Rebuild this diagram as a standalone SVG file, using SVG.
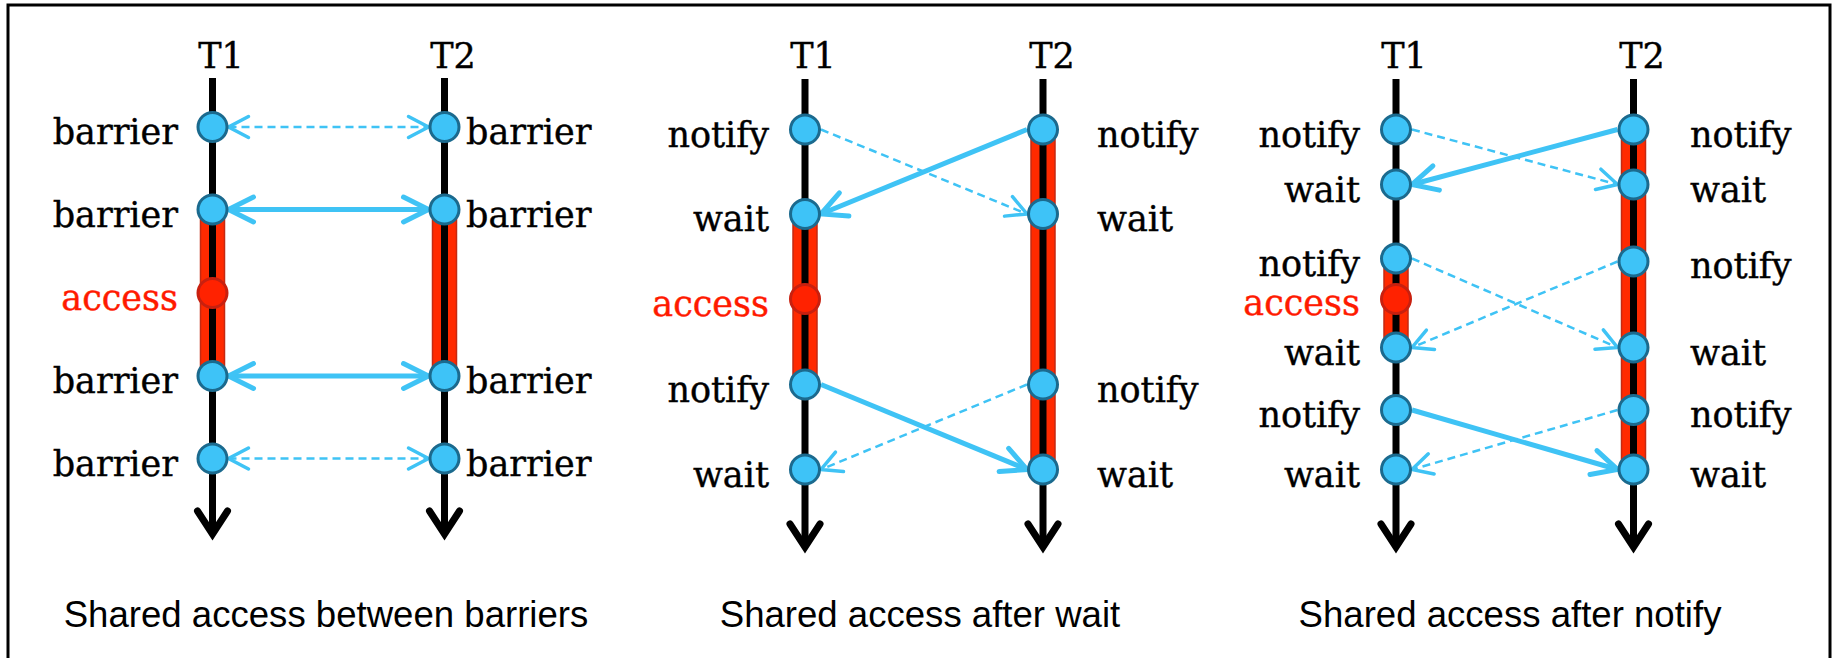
<svg xmlns="http://www.w3.org/2000/svg" width="1837" height="658" viewBox="0 0 1837 658">
<style>
.frame{fill:#fff;stroke:#000;stroke-width:3}
.life{stroke:#000;stroke-width:7;fill:none;marker-end:url(#bk)}
.band{fill:#ff2a00;stroke:#c42a12;stroke-width:1.5}
.ev{fill:#3ec3f7;stroke:#1b6a8e;stroke-width:3}
.acc{fill:#ff2200;stroke:#c8200f;stroke-width:3}
.lbl{font-family:"DejaVu Serif","Liberation Serif",serif;font-size:35px;fill:#000;stroke:#000;stroke-width:0.4}
.l{text-anchor:end}
.red{fill:#ff1a00;stroke:#ff1a00}
.th{font-family:"DejaVu Serif","Liberation Serif",serif;font-size:35px;fill:#000;stroke:#000;stroke-width:0.4;text-anchor:middle}
.cap{font-family:"Liberation Sans",Arial,sans-serif;font-size:36.6px;fill:#000;text-anchor:middle}
.sol{stroke:#3fc3f5;stroke-width:5;fill:none;marker-end:url(#hs)}
.das{stroke:#3fc3f5;stroke-width:2.5;stroke-dasharray:8 5;fill:none;marker-end:url(#hd)}
.sol2{marker-start:url(#hs)}
.das2{marker-start:url(#hd)}
</style>
<defs>
<marker id="bk" markerUnits="userSpaceOnUse" viewBox="-30 -20 36 40" refX="0" refY="0" markerWidth="36" markerHeight="40" orient="auto" overflow="visible">
<path d="M-23,-15 L0,0 L-23,15" fill="none" stroke="#000" stroke-width="7" stroke-linecap="round" stroke-linejoin="miter"/>
</marker>
<marker id="hs" markerUnits="userSpaceOnUse" viewBox="-32 -18 40 36" refX="0" refY="0" markerWidth="40" markerHeight="36" orient="auto-start-reverse" overflow="visible">
<path d="M-25,-12.5 L0,0 L-25,12.5" fill="none" stroke="#3fc3f5" stroke-width="5" stroke-linecap="round" stroke-linejoin="miter"/>
</marker>
<marker id="hd" markerUnits="userSpaceOnUse" viewBox="-28 -16 34 32" refX="0" refY="0" markerWidth="34" markerHeight="32" orient="auto-start-reverse" overflow="visible">
<path d="M-20,-10.5 L0,0 L-20,10.5" fill="none" stroke="#3fc3f5" stroke-width="3.5" stroke-linecap="round" stroke-linejoin="miter"/>
</marker>
</defs>
<rect class="frame" x="8" y="5" width="1822" height="700"/>

<!-- Panel 1 -->
<g id="p1-T1">
<rect class="band" x="200.5" y="209.5" width="24" height="166.5"/>
<line class="life" x1="212.5" y1="78" x2="212.5" y2="534"/>
<text class="th" x="221" y="68">T1</text>
</g>
<g id="p1-T2">
<rect class="band" x="432.5" y="209.5" width="24" height="166.5"/>
<line class="life" x1="444.5" y1="78" x2="444.5" y2="534"/>
<text class="th" x="453" y="68">T2</text>
</g>
<text class="cap" x="326" y="627">Shared access between barriers</text>

<!-- Panel 2 -->
<g id="p2-T1">
<rect class="band" x="793" y="214" width="24" height="170.5"/>
<line class="life" x1="805" y1="79" x2="805" y2="547"/>
<text class="th" x="813" y="68">T1</text>
</g>
<g id="p2-T2">
<rect class="band" x="1031" y="129.5" width="24" height="340"/>
<line class="life" x1="1043" y1="79" x2="1043" y2="547"/>
<text class="th" x="1052" y="68">T2</text>
</g>
<text class="cap" x="920" y="627">Shared access after wait</text>

<!-- Panel 3 -->
<g id="p3-T1">
<rect class="band" x="1384" y="258.5" width="24" height="89"/>
<line class="life" x1="1396" y1="79" x2="1396" y2="547"/>
<text class="th" x="1404" y="68">T1</text>
</g>
<g id="p3-T2">
<rect class="band" x="1621.5" y="129.5" width="24" height="340"/>
<line class="life" x1="1633.5" y1="79" x2="1633.5" y2="547"/>
<text class="th" x="1642" y="68">T2</text>
</g>
<text class="cap" x="1510" y="627">Shared access after notify</text>

<!-- Connectors -->
<g id="connectors">
<line class="das das2" x1="228.5" y1="127" x2="428.5" y2="127"/>
<line class="sol sol2" x1="228.5" y1="209.5" x2="428.5" y2="209.5"/>
<line class="sol sol2" x1="228.5" y1="376" x2="428.5" y2="376"/>
<line class="das das2" x1="228.5" y1="458.5" x2="428.5" y2="458.5"/>

<line class="das" x1="821" y1="129.5" x2="1027" y2="214"/>
<line class="sol" x1="1027" y1="129.5" x2="821" y2="214"/>
<line class="sol" x1="821" y1="384.5" x2="1027" y2="469.5"/>
<line class="das" x1="1027" y1="384.5" x2="821" y2="469.5"/>

<line class="das" x1="1412" y1="129.5" x2="1617.5" y2="184.5"/>
<line class="sol" x1="1617.5" y1="129.5" x2="1412" y2="184.5"/>
<line class="das" x1="1412" y1="258.5" x2="1617.5" y2="347.5"/>
<line class="das" x1="1617.5" y1="261.5" x2="1412" y2="347.5"/>
<line class="sol" x1="1412" y1="410" x2="1617.5" y2="469.5"/>
<line class="das" x1="1617.5" y1="410" x2="1412" y2="469.5"/>
</g>

<!-- Panel 1 events -->
<g id="p1-T1-b1"><circle class="ev" cx="212.5" cy="127" r="14.5"/><text class="lbl l" x="178" y="144">barrier</text></g>
<g id="p1-T1-b2"><circle class="ev" cx="212.5" cy="209.5" r="14.5"/><text class="lbl l" x="178" y="226.5">barrier</text></g>
<g id="p1-T1-acc"><circle class="acc" cx="212.5" cy="293" r="14.5"/><text class="lbl l red" x="178" y="310">access</text></g>
<g id="p1-T1-b3"><circle class="ev" cx="212.5" cy="376" r="14.5"/><text class="lbl l" x="178" y="393">barrier</text></g>
<g id="p1-T1-b4"><circle class="ev" cx="212.5" cy="458.5" r="14.5"/><text class="lbl l" x="178" y="475.5">barrier</text></g>
<g id="p1-T2-b1"><circle class="ev" cx="444.5" cy="127" r="14.5"/><text class="lbl" x="466" y="144">barrier</text></g>
<g id="p1-T2-b2"><circle class="ev" cx="444.5" cy="209.5" r="14.5"/><text class="lbl" x="466" y="226.5">barrier</text></g>
<g id="p1-T2-b3"><circle class="ev" cx="444.5" cy="376" r="14.5"/><text class="lbl" x="466" y="393">barrier</text></g>
<g id="p1-T2-b4"><circle class="ev" cx="444.5" cy="458.5" r="14.5"/><text class="lbl" x="466" y="475.5">barrier</text></g>

<!-- Panel 2 events -->
<g id="p2-T1-n1"><circle class="ev" cx="805" cy="129.5" r="14.5"/><text class="lbl l" x="769" y="146.5">notify</text></g>
<g id="p2-T1-w1"><circle class="ev" cx="805" cy="214" r="14.5"/><text class="lbl l" x="769" y="231">wait</text></g>
<g id="p2-T1-acc"><circle class="acc" cx="805" cy="299" r="14.5"/><text class="lbl l red" x="769" y="316">access</text></g>
<g id="p2-T1-n2"><circle class="ev" cx="805" cy="384.5" r="14.5"/><text class="lbl l" x="769" y="401.5">notify</text></g>
<g id="p2-T1-w2"><circle class="ev" cx="805" cy="469.5" r="14.5"/><text class="lbl l" x="769" y="486.5">wait</text></g>
<g id="p2-T2-n1"><circle class="ev" cx="1043" cy="129.5" r="14.5"/><text class="lbl" x="1097" y="146.5">notify</text></g>
<g id="p2-T2-w1"><circle class="ev" cx="1043" cy="214" r="14.5"/><text class="lbl" x="1097" y="231">wait</text></g>
<g id="p2-T2-n2"><circle class="ev" cx="1043" cy="384.5" r="14.5"/><text class="lbl" x="1097" y="401.5">notify</text></g>
<g id="p2-T2-w2"><circle class="ev" cx="1043" cy="469.5" r="14.5"/><text class="lbl" x="1097" y="486.5">wait</text></g>

<!-- Panel 3 events -->
<g id="p3-T1-n1"><circle class="ev" cx="1396" cy="129.5" r="14.5"/><text class="lbl l" x="1360" y="146.5">notify</text></g>
<g id="p3-T1-w1"><circle class="ev" cx="1396" cy="184.5" r="14.5"/><text class="lbl l" x="1360" y="201.5">wait</text></g>
<g id="p3-T1-n2"><circle class="ev" cx="1396" cy="258.5" r="14.5"/><text class="lbl l" x="1360" y="275.5">notify</text></g>
<g id="p3-T1-acc"><circle class="acc" cx="1396" cy="299" r="14.5"/><text class="lbl l red" x="1360" y="315">access</text></g>
<g id="p3-T1-w2"><circle class="ev" cx="1396" cy="347.5" r="14.5"/><text class="lbl l" x="1360" y="364.5">wait</text></g>
<g id="p3-T1-n3"><circle class="ev" cx="1396" cy="410" r="14.5"/><text class="lbl l" x="1360" y="427">notify</text></g>
<g id="p3-T1-w3"><circle class="ev" cx="1396" cy="469.5" r="14.5"/><text class="lbl l" x="1360" y="486.5">wait</text></g>
<g id="p3-T2-n1"><circle class="ev" cx="1633.5" cy="129.5" r="14.5"/><text class="lbl" x="1690" y="146.5">notify</text></g>
<g id="p3-T2-w1"><circle class="ev" cx="1633.5" cy="184.5" r="14.5"/><text class="lbl" x="1690" y="201.5">wait</text></g>
<g id="p3-T2-n2"><circle class="ev" cx="1633.5" cy="261.5" r="14.5"/><text class="lbl" x="1690" y="277.5">notify</text></g>
<g id="p3-T2-w2"><circle class="ev" cx="1633.5" cy="347.5" r="14.5"/><text class="lbl" x="1690" y="364.5">wait</text></g>
<g id="p3-T2-n3"><circle class="ev" cx="1633.5" cy="410" r="14.5"/><text class="lbl" x="1690" y="427">notify</text></g>
<g id="p3-T2-w3"><circle class="ev" cx="1633.5" cy="469.5" r="14.5"/><text class="lbl" x="1690" y="486.5">wait</text></g>
</svg>
